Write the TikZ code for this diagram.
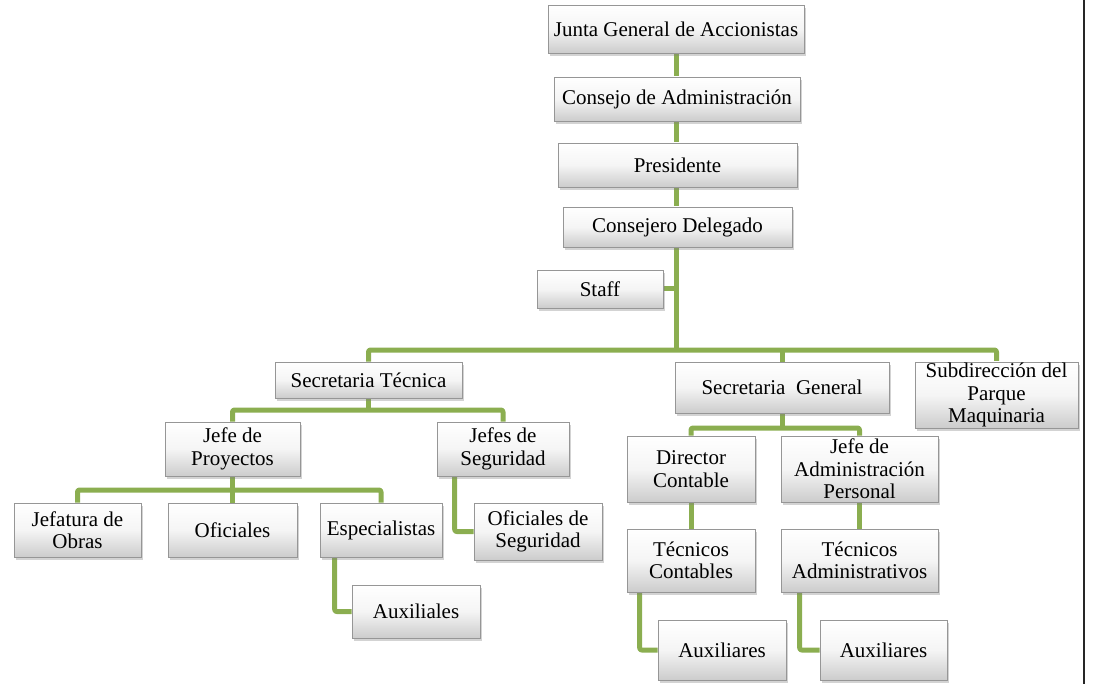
\documentclass[tikz,border=0pt]{standalone}
\usepackage{fontspec}
\setmainfont{Liberation Serif}
\usetikzlibrary{shadows,backgrounds}
\definecolor{lineg}{RGB}{139,174,80}
\definecolor{boxedge}{RGB}{150,150,150}
\tikzset{
  box/.style={rectangle, inner sep=1pt, align=center,
    top color=white, bottom color=black!20, middle color=black!4,
    draw=boxedge, line width=0.6pt,
    font=\fontsize{21}{22.5}\selectfont,
    drop shadow={shadow xshift=1.5pt, shadow yshift=-3pt, opacity=0.35}},
  conn/.style={draw=lineg, line width=5pt, line join=round, rounded corners=2pt},
}
\newcommand{\bx}[6]{\node[box, minimum width=#3pt, minimum height=#4pt] (#1) at (#2) {#6};}
\begin{document}
\begin{tikzpicture}[x=1pt,y=-1pt]
\useasboundingbox (0,0) rectangle (1094,684);
\node[box, minimum width=256pt, minimum height=48pt] (junta) at (676,29) {Junta General de Accionistas};
\node[box, minimum width=246pt, minimum height=44pt] (consejo) at (677,99) {Consejo de Administración};
\node[box, minimum width=239pt, minimum height=44pt] (pres) at (677.5,165) {Presidente};
\node[box, minimum width=229pt, minimum height=40pt] (deleg) at (677.5,227) {Consejero Delegado};
\node[box, minimum width=126pt, minimum height=38pt] (staff) at (600,289) {Staff};
\node[box, minimum width=187pt, minimum height=36pt] (sectec) at (368.5,380) {Secretaria Técnica};
\node[box, minimum width=214pt, minimum height=51pt] (secgen) at (782,387.5) {Secretaria\ \ General};
\node[box, minimum width=163pt, minimum height=66pt] (subdir) at (996.5,395) {Subdirección del\\Parque\\Maquinaria};
\node[box, minimum width=135pt, minimum height=54pt] (jproy) at (232.5,449) {Jefe de\\Proyectos};
\node[box, minimum width=132pt, minimum height=54pt] (jseg) at (503,449) {Jefes de\\Seguridad};
\node[box, minimum width=128pt, minimum height=66pt] (dircont) at (691,469) {Director\\Contable};
\node[box, minimum width=157pt, minimum height=66pt] (jadmin) at (859.5,469) {Jefe de\\Administración\\Personal};
\node[box, minimum width=127pt, minimum height=54pt] (jobras) at (77.5,530) {Jefatura de\\Obras};
\node[box, minimum width=129pt, minimum height=54pt] (ofic) at (232.5,530) {Oficiales};
\node[box, minimum width=122pt, minimum height=54pt] (espec) at (381,530) {Especialistas};
\node[box, minimum width=128pt, minimum height=57pt] (ofseg) at (538,531.5) {Oficiales de\\Seguridad};
\node[box, minimum width=128pt, minimum height=53pt] (auxl) at (416,611.5) {Auxiliales};
\node[box, minimum width=128pt, minimum height=63pt] (tcont) at (691,560.5) {Técnicos\\Contables};
\node[box, minimum width=157pt, minimum height=63pt] (tadmin) at (859.5,560.5) {Técnicos\\Administrativos};
\node[box, minimum width=128pt, minimum height=60pt] (auxa) at (722,650) {Auxiliares};
\node[box, minimum width=127pt, minimum height=60pt] (auxb) at (883.5,650) {Auxiliares};
\coordinate (bus) at (677,350);
\coordinate (b2) at (368.5,410);
\coordinate (b3) at (232.5,490);
\coordinate (b4) at (782,428);
\coordinate (rt) at (1084,0);
\coordinate (rb) at (1084,684);
\begin{pgfonlayer}{background}
\draw[conn] (junta.south) -- (junta.south |- bus);
\draw[conn] (staff.east) -- (staff.east -| junta.south);
\draw[conn] (sectec.north) -- (sectec.north |- bus) -- (subdir.north |- bus) -- (subdir.north);
\draw[conn] (secgen.north) -- (secgen.north |- bus);
\draw[conn] (sectec.south) -- (b2);
\draw[conn] (jproy.north) |- (b2) -| (jseg.north);
\draw[conn] (jproy.south) -- (ofic.north);
\draw[conn] (jobras.north) |- (b3) -| (espec.north);
\draw[conn] ([xshift=18pt]jseg.south west) |- (ofseg.west);
\draw[conn] ([xshift=15pt]espec.south west) |- (auxl.west);
\draw[conn] (secgen.south) -- (b4);
\draw[conn] (dircont.north) |- (b4) -| (jadmin.north);
\draw[conn] (dircont.south) -- (tcont.north);
\draw[conn] (jadmin.south) -- (tadmin.north);
\draw[conn] ([xshift=13pt]tcont.south west) |- (auxa.west);
\draw[conn] ([xshift=19pt]tadmin.south west) |- (auxb.west);
\end{pgfonlayer}
\draw[line width=2pt, black!85] (rt) -- (rb);
\end{tikzpicture}
\end{document}
